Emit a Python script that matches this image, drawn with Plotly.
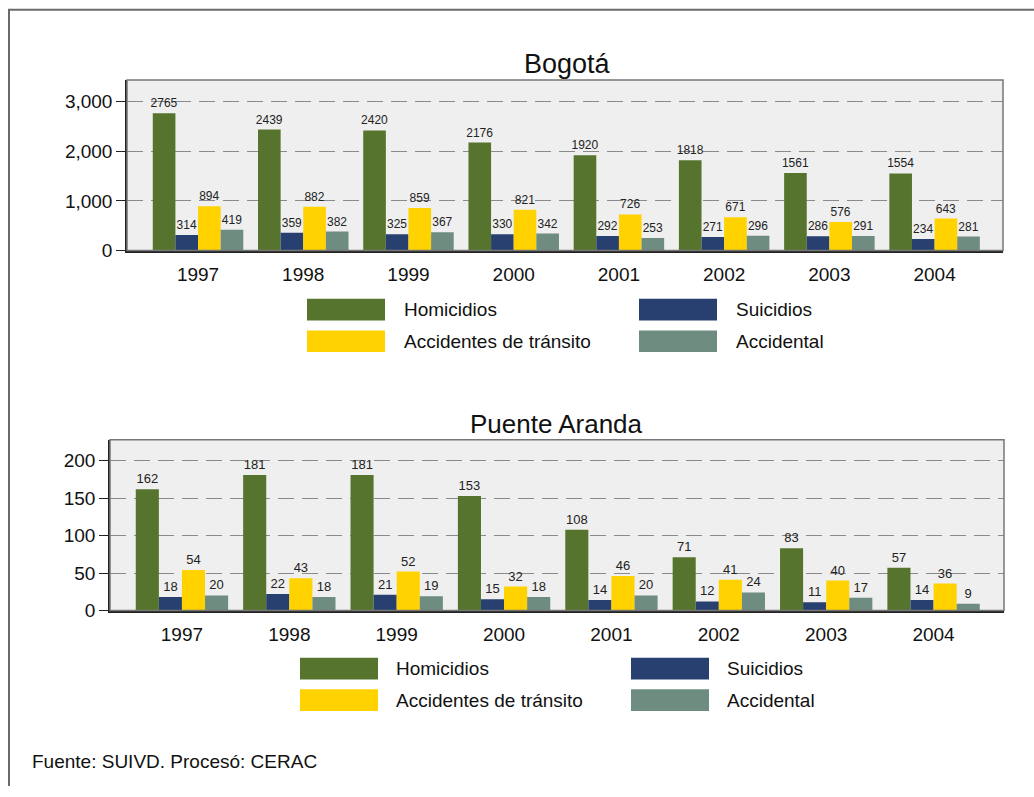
import plotly.graph_objects as go

W, H = 1034, 797

years = ["1997", "1998", "1999", "2000", "2001", "2002", "2003", "2004"]
series_names = ["Homicidios", "Suicidios", "Accidentes de tránsito", "Accidental"]

bog_homicidios = [2765, 2439, 2420, 2176, 1920, 1818, 1561, 1554]
bog_suicidios = [314, 359, 325, 330, 292, 271, 286, 234]
bog_transito = [894, 882, 859, 821, 726, 671, 576, 643]
bog_accidental = [419, 382, 367, 342, 253, 296, 291, 281]

pa_homicidios = [162, 181, 181, 153, 108, 71, 83, 57]
pa_suicidios = [18, 22, 21, 15, 14, 12, 11, 14]
pa_transito = [54, 43, 52, 32, 46, 41, 40, 36]
pa_accidental = [20, 18, 19, 18, 20, 24, 17, 9]

colors = ["#56742E", "#27406F", "#FFD200", "#6E8C80"]
FONT = "Liberation Sans, Arial, sans-serif"


def px(x):
    return x / W


def py(y):
    return 1 - y / H


fig = go.Figure()

panels = [
    ("", [bog_homicidios, bog_suicidios, bog_transito, bog_accidental], 12),
    ("2", [pa_homicidios, pa_suicidios, pa_transito, pa_accidental], 13),
]
for suffix, data, tsize in panels:
    for name, vals, col in zip(series_names, data, colors):
        fig.add_trace(go.Bar(
            x=years, y=vals, name=name,
            marker=dict(color=col, line=dict(width=0)),
            text=[str(v) for v in vals], textposition="outside",
            constraintext="none",
            textfont=dict(size=tsize, color="#222", family=FONT),
            cliponaxis=False, showlegend=False,
            xaxis="x" + suffix, yaxis="y" + suffix,
        ))

grid = dict(showgrid=True, gridcolor="#8a8a8a", gridwidth=1, griddash="16px,8px",
            showline=True, linecolor="#222", linewidth=1.5,
            ticks="outside", ticklen=9, tickcolor="#222", tickwidth=1,
            tickfont=dict(size=19, color="#111", family=FONT), zeroline=False, fixedrange=True)
xcommon = dict(type="category", showgrid=False, showline=True, linecolor="#222", linewidth=2.5,
               ticks="outside", ticklen=5, tickcolor="rgba(0,0,0,0)",
               tickfont=dict(size=19, color="#111", family=FONT), fixedrange=True)

fig.update_layout(
    width=W, height=H,
    margin=dict(l=0, r=0, t=0, b=0),
    paper_bgcolor="white",
    plot_bgcolor="#EFEFEF",
    barmode="group", bargap=0.14, bargroupgap=0,
    font=dict(family=FONT, color="#111"),
    xaxis=dict(domain=[px(127), px(1003)], anchor="y", range=[-0.675, 7.65], **xcommon),
    yaxis=dict(domain=[py(254), py(81)], anchor="x", range=[0, 3440],
               tickvals=[0, 1000, 2000, 3000], tickformat=",", **grid),
    xaxis2=dict(domain=[px(110), px(1004)], anchor="y2", range=[-0.67, 7.656], **xcommon),
    yaxis2=dict(domain=[py(619), py(446)], anchor="x2", range=[0, 228],
                tickvals=[0, 50, 100, 150, 200], **grid),
)

shapes = []
# plot frames (gray top/right edge)
for xr, yr in [("x domain", "y domain"), ("x2 domain", "y2 domain")]:
    shapes.append(dict(type="rect", xref=xr, yref=yr, x0=0, x1=1, y0=0, y1=1,
                       line=dict(color="#777", width=1.5), layer="above"))
# outer border (top and left only)
shapes.append(dict(type="line", xref="paper", yref="paper", x0=px(8), x1=1, y0=py(10), y1=py(10),
                   line=dict(color="#6a6a6a", width=2)))
shapes.append(dict(type="line", xref="paper", yref="paper", x0=px(9), x1=px(9), y0=py(10), y1=0,
                   line=dict(color="#6a6a6a", width=2)))


def label(text, x, y, size=19, anchor="left"):
    return dict(text=text, x=px(x), y=py(y), xref="paper", yref="paper",
                xanchor=anchor, yanchor="middle", showarrow=False,
                font=dict(size=size, color="#111", family=FONT))


annotations = [
    label("Bogotá", 567, 65, 27, "center"),
    label("Puente Aranda", 556, 430, 26, "center"),
    label("Fuente: SUIVD. Procesó: CERAC", 30, 772),
]

# custom legends with wide swatches: (col x-starts, text x-starts, row y-centres)
legend_layouts = [
    ([307, 639], [402, 734], [314, 346]),
    ([300, 631], [394, 725], [678, 710]),
]
order = [(0, 0, 0), (1, 0, 1), (2, 1, 0), (3, 1, 1)]  # series, row, col
for sx, tx, ry in legend_layouts:
    for s, r, c in order:
        shapes.append(dict(type="rect", xref="paper", yref="paper",
                           x0=px(sx[c]), x1=px(sx[c] + 78), y0=py(ry[r] - 11), y1=py(ry[r] + 11),
                           fillcolor=colors[s], line=dict(width=0)))
        annotations.append(label(series_names[s], tx[c], ry[r]))

fig.update_layout(shapes=shapes, annotations=annotations)

# drop the default page margin so figure pixels line up with the window
fig.write_html("out.html", config={"displayModeBar": False},
               post_script="document.body.style.margin='0px';")
